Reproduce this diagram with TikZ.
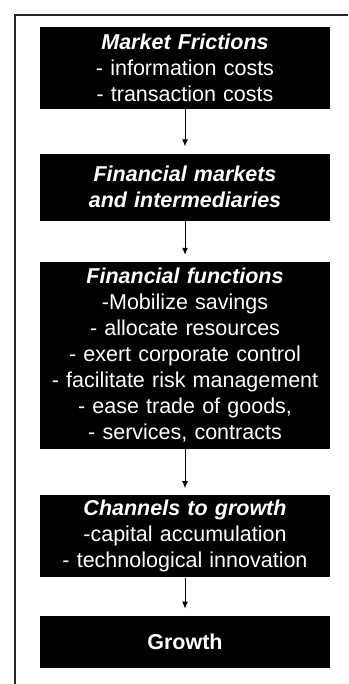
\documentclass[tikz,border=0pt]{standalone}
\usepackage{fontspec}
\setmainfont{Liberation Sans}
\usepackage{tikz}
\usetikzlibrary{arrows.meta}
\tikzstyle{block}=[fill=black, text=white, align=center, anchor=north,
  text width=282pt, minimum width=290pt, inner xsep=4pt, inner ysep=2pt,
  font=\fontsize{21.5}{26}\selectfont]
\tikzstyle{flow}=[->, line width=1pt, shorten >=7pt]
\tikzset{>={Latex[length=7pt,width=6pt]}}
\newcommand{\head}[1]{\textbf{\textit{#1}}}

\begin{document}
\begin{tikzpicture}[x=1pt,y=-1pt]
  \useasboundingbox (0,0) rectangle (348,684);
  % outer frame, only top and left edges show
  \draw[line width=2.5pt, black!85] (15,684) -- (15,15) -- (348,15);

  \node(frictions)[block, minimum height=82pt] at (185,27)
  {\head{Market Frictions}\\- information costs\\- transaction costs};

  \path(frictions.south)+(0,44) node(markets)[block, minimum height=67pt]
  {\head{Financial markets}\\\head{and intermediaries}};
  \draw[flow] (frictions.south) -- (markets.north);

  \path(markets.south)+(0,41) node(functions)[block, minimum height=187pt]
  {\head{Financial functions}\\-Mobilize savings\\- allocate resources\\
   - exert corporate control\\- facilitate risk management\\
   - ease trade of goods,\\- services, contracts};
  \draw[flow] (markets.south) -- (functions.north);

  \path(functions.south)+(0,46) node(channels)[block, minimum height=82pt]
  {\head{Channels to growth}\\-capital accumulation\\- technological innovation};
  \draw[flow] (functions.south) -- (channels.north);

  \path(channels.south)+(0,38) node(growth)[block, minimum height=52pt]
  {\textbf{Growth}};
  \draw[flow] (channels.south) -- (growth.north);
\end{tikzpicture}
\end{document}
